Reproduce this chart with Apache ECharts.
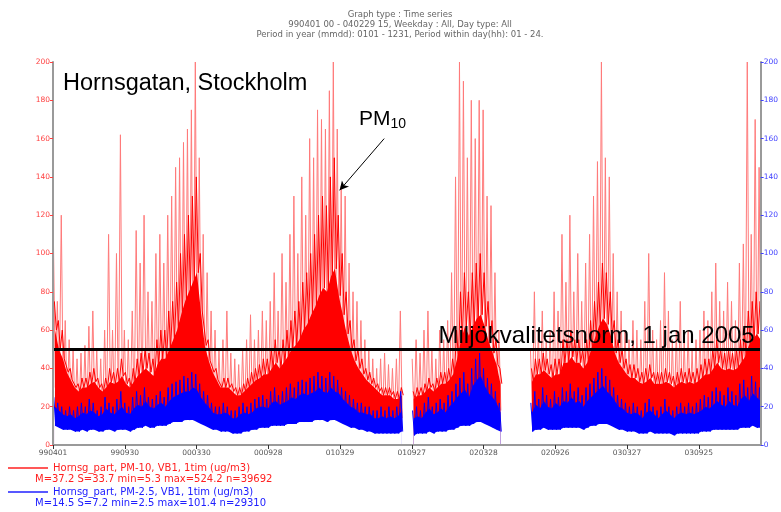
<!DOCTYPE html>
<html>
<head>
<meta charset="utf-8">
<script src="https://cdn.jsdelivr.net/npm/echarts@6/dist/echarts.min.js"></script>
<style>
  html, body { margin: 0; padding: 0; background: #fff; }
  #chart { width: 781px; height: 512px; }
</style>
</head>
<body>
<div id="chart"></div>
<script>
// days since 1999-04-01, one bin = 10 days
const binDays = 10;
const axisMaxDay = 1795;
const tickStep = 182;
const tickLabels = ['990401', '990930', '000330', '000928', '010329', '010927', '020328', '020926', '030327', '030925'];
const yTicks = [0, 20, 40, 60, 80, 100, 120, 140, 160, 180, 200];
const normValue = 50;

// PM10 spikes (upper envelope)
const pm10Hi = [
  108, 75, 120, 65, 55, 50, 45, 48, 52, 62,
  70, 50, 45, 60, 110, 60, 100, 162, 60, 55,
  70, 112, 95, 120, 80, 75, 100, 110, 95, 120,
  130, 145, 150, 158, 165, 175, 200, 150, 110, 90,
  70, 60, 50, 55, 70, 48, 45, 42, 50, 55,
  68, 55, 60, 70, 65, 75, 90, 70, 100, 85,
  110, 130, 100, 140, 120, 160, 150, 175, 170, 165,
  185, 200, 165, 135, 130, 95, 80, 75, 65, 55,
  50, 45, 40, 45, 48, 42, 40, 45, 70, null,
  null, 45, 55, 48, 60, 70, 50, 45, 60, 55,
  65, 90, 140, 200, 190, 150, 180, 160, 180, 175,
  130, 125, 90, 60, null, null, null, null, null, null,
  null, 50, 80, 60, 70, 55, 60, 80, 70, 110,
  85, 120, 80, 100, 75, 95, 110, 130, 148, 200,
  150, 140, 100, 80, 70, 60, 55, 65, 60, 55,
  75, 100, 60, 55, 65, 90, 70, 55, 60, 75,
  55, 60, 50, 55, 60, 70, 65, 80, 95, 75,
  70, 85, 75, 65, 95, 105, 200, 110, 170, 145
];
// PM10 frequent highs (deep red lines)
const pm10Mid = [
  75, 65, 60, 45, 40, 35, 32, 35, 35, 38,
  40, 35, 32, 35, 40, 38, 40, 45, 38, 35,
  40, 45, 48, 50, 48, 45, 55, 60, 60, 70,
  75, 85, 100, 110, 120, 130, 140, 100, 70, 55,
  45, 40, 35, 35, 35, 32, 30, 30, 32, 35,
  38, 40, 42, 45, 45, 50, 55, 50, 55, 60,
  65, 70, 75, 85, 90, 100, 110, 120, 130, 125,
  140, 150, 120, 100, 80, 65, 55, 50, 45, 40,
  38, 35, 32, 30, 30, 30, 28, 28, 30, null,
  null, 28, 30, 30, 32, 35, 32, 35, 38, 38,
  40, 45, 60, 80, 90, 80, 90, 95, 100, 90,
  75, 65, 55, 40, null, null, null, null, null, null,
  null, 40, 45, 45, 48, 45, 42, 45, 45, 55,
  55, 60, 55, 55, 50, 55, 65, 75, 85, 95,
  90, 80, 65, 55, 50, 45, 42, 42, 40, 38,
  40, 42, 38, 38, 38, 40, 38, 36, 38, 40,
  38, 40, 38, 40, 42, 45, 45, 50, 55, 50,
  48, 50, 48, 50, 55, 60, 70, 75, 80, 75
];
// PM10 solid core top
const pm10Core = [
  60, 50, 45, 38, 34, 30, 28, 30, 30, 32,
  33, 30, 28, 30, 33, 32, 33, 36, 32, 30,
  33, 36, 38, 40, 38, 36, 42, 45, 45, 50,
  55, 60, 68, 75, 80, 85, 90, 70, 52, 44,
  38, 34, 30, 30, 30, 28, 26, 26, 28, 30,
  32, 34, 35, 37, 37, 40, 43, 40, 43, 46,
  50, 52, 55, 60, 63, 68, 72, 78, 82, 80,
  88, 92, 78, 68, 58, 50, 44, 40, 37, 34,
  32, 30, 28, 26, 26, 26, 24, 24, 26, null,
  null, 24, 26, 26, 28, 30, 28, 30, 32, 32,
  34, 37, 45, 55, 62, 57, 62, 66, 68, 62,
  54, 48, 42, 32, null, null, null, null, null, null,
  null, 33, 37, 37, 39, 37, 35, 37, 37, 43,
  43, 46, 43, 43, 40, 43, 50, 56, 62, 66,
  63, 57, 48, 43, 40, 37, 35, 35, 33, 32,
  33, 35, 32, 32, 32, 33, 32, 30, 32, 33,
  32, 33, 32, 33, 35, 37, 37, 40, 43, 40,
  39, 40, 39, 40, 43, 46, 52, 55, 58, 55
];
// PM10 lower edge
const pm10Lo = [
  30, 28, 25, 20, 18, 18, 15, 15, 16, 16,
  18, 15, 15, 15, 18, 18, 18, 20, 18, 16,
  18, 20, 20, 22, 22, 20, 22, 25, 25, 28,
  28, 30, 30, 35, 35, 35, 35, 30, 25, 22,
  20, 18, 16, 16, 15, 15, 14, 14, 15, 15,
  16, 18, 20, 20, 20, 22, 25, 22, 22, 25,
  25, 25, 28, 30, 30, 30, 32, 32, 35, 35,
  35, 35, 32, 30, 28, 25, 22, 22, 20, 18,
  16, 15, 15, 14, 14, 14, 14, 14, 14, null,
  null, 14, 14, 14, 14, 15, 15, 16, 16, 18,
  18, 20, 22, 25, 28, 28, 28, 30, 30, 28,
  25, 25, 22, 18, null, null, null, null, null, null,
  null, 18, 20, 20, 22, 20, 20, 20, 20, 22,
  22, 25, 22, 22, 22, 24, 25, 28, 30, 32,
  30, 28, 25, 22, 22, 20, 20, 20, 18, 18,
  18, 18, 16, 16, 16, 16, 16, 16, 16, 18,
  18, 18, 18, 18, 18, 20, 20, 20, 22, 22,
  20, 20, 20, 20, 22, 22, 22, 25, 25, 25
];
// PM2.5 peaks / dense band top / lower edge
const pm25Hi = [
  25, 22, 20, 18, 20, 18, 20, 22, 20, 24,
  22, 18, 20, 25, 22, 20, 24, 28, 22, 20,
  25, 28, 26, 30, 25, 24, 26, 28, 25, 30,
  32, 33, 34, 36, 35, 38, 37, 32, 28, 26,
  22, 20, 20, 22, 20, 18, 18, 20, 22, 20,
  22, 24, 25, 26, 24, 28, 30, 26, 28, 30,
  32, 30, 33, 34, 33, 35, 36, 38, 36, 35,
  38, 36, 34, 30, 28, 26, 24, 22, 22, 20,
  20, 18, 18, 20, 18, 20, 18, 20, 28, null,
  null, 18, 20, 18, 22, 25, 20, 22, 24, 22,
  26, 28, 32, 35, 38, 32, 40, 45, 48, 40,
  35, 32, 28, 22, null, null, null, null, null, null,
  null, 22, 28, 24, 30, 26, 24, 28, 25, 30,
  28, 32, 28, 30, 26, 30, 32, 35, 38, 40,
  36, 34, 30, 26, 24, 22, 20, 22, 20, 18,
  22, 24, 20, 18, 20, 24, 20, 18, 20, 22,
  20, 22, 20, 22, 24, 26, 25, 28, 30, 28,
  26, 30, 28, 26, 32, 34, 30, 36, 33, 30
];
const pm25Mid = [
  20, 18, 16, 15, 16, 14, 15, 17, 16, 18,
  17, 15, 16, 19, 17, 16, 18, 20, 17, 16,
  19, 21, 20, 23, 20, 19, 21, 22, 20, 23,
  25, 26, 27, 28, 28, 30, 29, 25, 22, 20,
  17, 16, 16, 17, 16, 14, 14, 16, 17, 16,
  17, 19, 20, 20, 19, 22, 23, 21, 22, 23,
  25, 24, 26, 27, 26, 27, 28, 30, 28, 27,
  30, 28, 27, 24, 22, 20, 19, 17, 17, 16,
  16, 14, 14, 15, 14, 15, 14, 15, 18, null,
  null, 14, 15, 14, 17, 19, 16, 17, 19, 17,
  20, 22, 25, 27, 29, 25, 31, 34, 36, 31,
  27, 25, 22, 17, null, null, null, null, null, null,
  null, 17, 21, 19, 23, 20, 19, 22, 20, 23,
  22, 25, 22, 23, 20, 23, 25, 27, 29, 31,
  28, 26, 23, 20, 19, 17, 16, 17, 16, 14,
  17, 18, 16, 14, 16, 18, 16, 14, 16, 17,
  16, 17, 16, 17, 18, 20, 19, 21, 23, 21,
  20, 23, 21, 20, 24, 26, 23, 27, 25, 23
];
const pm25Lo = [
  10, 9, 8, 8, 8, 7, 7, 8, 7, 8,
  8, 7, 7, 8, 8, 7, 8, 8, 8, 7,
  8, 9, 9, 10, 9, 9, 10, 10, 10, 11,
  12, 12, 12, 13, 13, 13, 12, 11, 10, 9,
  8, 8, 7, 7, 7, 6, 6, 6, 7, 7,
  8, 8, 9, 9, 9, 10, 10, 10, 10, 11,
  11, 11, 12, 12, 12, 12, 13, 13, 13, 12,
  13, 13, 12, 11, 10, 9, 9, 8, 8, 7,
  7, 6, 6, 6, 6, 6, 6, 6, 7, null,
  null, 5, 6, 6, 6, 7, 6, 7, 7, 7,
  8, 8, 9, 10, 10, 10, 11, 12, 12, 11,
  10, 9, 8, 7, null, null, null, null, null, null,
  null, 7, 8, 8, 9, 8, 8, 8, 8, 9,
  9, 9, 9, 9, 8, 9, 10, 10, 11, 11,
  11, 10, 9, 8, 8, 7, 7, 7, 6, 6,
  6, 7, 6, 6, 6, 6, 6, 5, 6, 6,
  6, 6, 6, 6, 7, 7, 7, 8, 8, 8,
  8, 8, 8, 8, 9, 9, 9, 10, 9, 9
];

// alternate high / low readings of each bin so the line looks like the dense hourly trace
function zigzag(hi, lo, offset) {
  const out = [];
  hi.forEach((h, i) => {
    const d = i * binDays + offset;
    if (h == null) {
      out.push([d, '-']);
      return;
    }
    out.push([d, h]);
    out.push([d + binDays / 2, lo[i]]);
  });
  return out;
}
// one value per bin centre, for the filled bands
const atCentres = arr => arr.map((v, i) => [i * binDays + binDays / 2, v == null ? '-' : v]);

const chart = echarts.init(document.getElementById('chart'));
const font = 'Liberation Sans, Arial, sans-serif';
const smallFont = 'DejaVu Sans, sans-serif';

const yAxisBase = (color, pos) => ({
  type: 'value',
  position: pos,
  z: 10,
  min: yTicks[0],
  max: yTicks[yTicks.length - 1],
  interval: yTicks[1] - yTicks[0],
  axisLine: { show: true, lineStyle: { color: '#9a9a9a', width: 2 } },
  axisTick: { show: true, length: 3, lineStyle: { color: color } },
  axisLabel: { color: color, fontSize: 7.5, fontFamily: smallFont, margin: 3 },
  splitLine: { show: false }
});

// filled band down to the axis; the white fill clears everything under PM2.5's lower edge
const fill = (data, color, yIdx, z) => ({
  type: 'line', yAxisIndex: yIdx, data: data, showSymbol: false, silent: true, z: z,
  lineStyle: { width: 0, opacity: 0 }, areaStyle: { color: color, opacity: 1 }
});

chart.setOption({
  animation: false,
  backgroundColor: '#fff',
  grid: { left: 53, right: 18, top: 62, bottom: 67 },
  xAxis: {
    type: 'value',
    z: 10,
    min: 0,
    max: axisMaxDay,
    interval: tickStep,
    axisLine: { lineStyle: { color: '#9a9a9a', width: 2 } },
    axisTick: { length: 4, lineStyle: { color: '#333' } },
    axisLabel: {
      color: '#555', fontSize: 7.5, fontFamily: smallFont, margin: 4, showMaxLabel: false,
      formatter: v => tickLabels[Math.round(v / tickStep)] || ''
    },
    splitLine: { show: false }
  },
  yAxis: [yAxisBase('#ff4040', 'left'), yAxisBase('#4040ff', 'right')],
  series: [
    {
      name: 'PM10 peaks',
      type: 'line',
      data: zigzag(pm10Hi, pm10Lo, 1),
      showSymbol: false,
      lineStyle: { color: '#ff7a7a', width: 1 },
      markLine: {
        silent: true,
        symbol: ['none', 'arrow'],
        symbolSize: [7, 9],
        lineStyle: { color: '#000', width: 1, type: 'solid' },
        label: { show: false },
        data: [[{ coord: [840, 160] }, { coord: [727, 133] }]]
      },
      z: 2
    },
    fill(atCentres(pm10Core), '#ff0000', 0, 3),
    {
      type: 'line',
      data: zigzag(pm10Mid, pm10Core, 3.5),
      showSymbol: false,
      lineStyle: { color: '#ff0000', width: 1 },
      z: 3
    },
    fill(atCentres(pm25Mid), '#0000ff', 1, 4),
    {
      type: 'line',
      yAxisIndex: 1,
      data: zigzag(pm25Hi, pm25Lo, 2),
      showSymbol: false,
      lineStyle: { color: '#0000ff', width: 1 },
      markLine: {
        silent: true,
        symbol: ['none', 'none'],
        lineStyle: { color: '#000', width: 3, type: 'solid' },
        label: {
          show: true,
          position: 'insideEndTop',
          formatter: 'Miljökvalitetsnorm, 1 jan 2005',
          color: '#000',
          fontSize: 24,
          fontFamily: font,
          distance: [6, 1]
        },
        data: [{ yAxis: normValue }]
      },
      z: 4
    },
    fill(atCentres(pm25Lo), '#ffffff', 1, 4)
  ],
  graphic: [
    {
      type: 'text', x: 400, y: 10, z: 10,
      style: {
        text: 'Graph type : Time series\n990401 00 - 040229 15, Weekday : All, Day type: All\nPeriod in year (mmdd): 0101 - 1231, Period within day(hh): 01 - 24.',
        fill: '#666', font: '8.5px ' + smallFont, lineHeight: 10, textAlign: 'center'
      }
    },
    {
      type: 'text', left: 63, top: 72, z: 10,
      style: { text: 'Hornsgatan, Stockholm', fill: '#000', font: '23.5px ' + font }
    },
    {
      type: 'text', left: 359, top: 109, z: 10,
      style: {
        text: '{a|PM}{b|10}',
        rich: {
          a: { fontSize: 21, fontFamily: font, fill: '#000' },
          b: { fontSize: 14, fontFamily: font, fill: '#000', padding: [10, 0, 0, 0] }
        }
      }
    },
    { type: 'line', shape: { x1: 8, y1: 468, x2: 48, y2: 468 }, style: { stroke: '#ff2020', lineWidth: 1.5 } },
    {
      type: 'text', left: 53, top: 463,
      style: { text: 'Hornsg_part, PM-10, VB1, 1tim (ug/m3)', fill: '#ff2020', font: '10px ' + smallFont }
    },
    {
      type: 'text', left: 35, top: 474,
      style: { text: 'M=37.2 S=33.7 min=5.3 max=524.2 n=39692', fill: '#ff2020', font: '10px ' + smallFont }
    },
    { type: 'line', shape: { x1: 8, y1: 492, x2: 48, y2: 492 }, style: { stroke: '#2020ff', lineWidth: 1.5 } },
    {
      type: 'text', left: 53, top: 487,
      style: { text: 'Hornsg_part, PM-2.5, VB1, 1tim (ug/m3)', fill: '#2020ff', font: '10px ' + smallFont }
    },
    {
      type: 'text', left: 35, top: 498,
      style: { text: 'M=14.5 S=7.2 min=2.5 max=101.4 n=29310', fill: '#2020ff', font: '10px ' + smallFont }
    }
  ]
});
</script>
</body>
</html>
